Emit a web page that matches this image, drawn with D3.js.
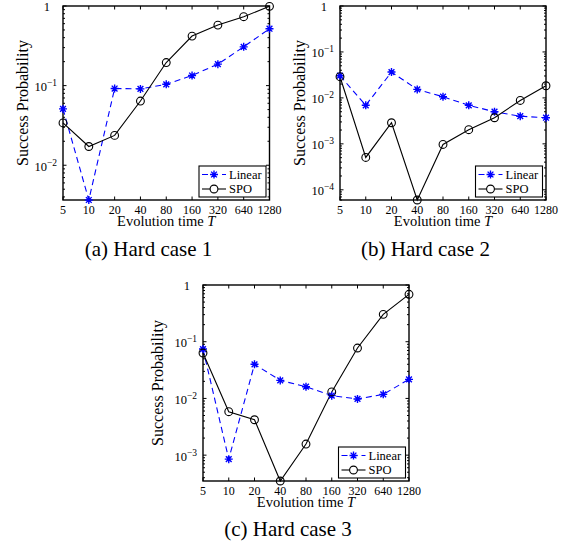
<!DOCTYPE html>
<html><head><meta charset="utf-8">
<script src="https://cdn.jsdelivr.net/npm/d3@7/dist/d3.min.js"></script>
<style>
body{margin:0;background:#fff}
svg{display:block}
</style>
</head><body>
<svg id="chart" width="572" height="544" font-family="'Liberation Serif', 'Times New Roman', Times, 'DejaVu Serif', serif"></svg>
<script>
// ---- data ----
const evolutionTimes = [5, 10, 20, 40, 80, 160, 320, 640, 1280];
const xTickLabels = ["5", "10", "20", "40", "80", "160", "320", "640", "1280"];
const linearCase1 = [0.051, 0.00366, 0.092, 0.091, 0.104, 0.134, 0.186, 0.307, 0.518];
const spoCase1    = [0.034, 0.0172, 0.0237, 0.064, 0.195, 0.419, 0.576, 0.734, 0.99];
const linearCase2 = [0.0304, 0.0069, 0.0365, 0.0153, 0.0106, 0.0069, 0.0050, 0.0040, 0.0037];
const spoCase2    = [0.0289, 0.000506, 0.00288, 0.00006, 0.00097, 0.00203, 0.0037, 0.0088, 0.0184];
const linearCase3 = [0.0743, 0.00085, 0.040, 0.0208, 0.0161, 0.0112, 0.0098, 0.0118, 0.0217];
const spoCase3    = [0.0632, 0.00583, 0.00421, 0.00035, 0.00157, 0.013, 0.0774, 0.304, 0.685];
const seriesNames = ["Linear", "SPO"];
const captions = ["(a) Hard case 1", "(b) Hard case 2", "(c) Hard case 3"];
const yAxisTitle = "Success Probability";
const xAxisTitle = "Evolution time ";
const xAxisTitleVar = "T";

// ---- layout ----
const panels = [
  {left: 63,  right: 269.5, top: 6,   bottom: 200, ylabOff: 35, capX: 148.5, capY: 256, lin: linearCase1, spo: spoCase1, cap: captions[0]},
  {left: 340, right: 546,   top: 6,   bottom: 200, ylabOff: 35, capX: 425.5, capY: 256, lin: linearCase2, spo: spoCase2, cap: captions[1]},
  {left: 203, right: 409,   top: 285, bottom: 481, ylabOff: 40, capX: 288,   capY: 536, lin: linearCase3, spo: spoCase3, cap: captions[2]}
];

const FONT = "'Liberation Serif', 'Times New Roman', Times, 'DejaVu Serif', serif";
const svg = d3.select("#chart");
const BLUE = "#0000ff";
const starPath = (s) => {
  const d = s * 0.72;
  return `M${-s},0L${s},0M0,${-s}L0,${s}M${-d},${-d}L${d},${d}M${-d},${d}L${d},${-d}`;
};
const txt = (sel) => sel.append("text").attr("font-family", FONT).attr("fill", "#000");

panels.forEach(p => {
  const g = svg.append("g");
  const x = d3.scaleLog().base(2).domain([evolutionTimes[0], evolutionTimes[evolutionTimes.length - 1]]).range([p.left, p.right]);
  const yMin = d3.min(p.lin.concat(p.spo));
  const y = d3.scaleLog().domain([yMin, 1]).range([p.bottom, p.top]);

  g.append("rect").attr("x", p.left).attr("y", p.top).attr("width", p.right - p.left).attr("height", p.bottom - p.top)
    .attr("fill", "#fff").attr("stroke", "none");

  // x ticks (inward, bottom & top)
  evolutionTimes.forEach((t, i) => {
    const xx = x(t);
    g.append("line").attr("x1", xx).attr("x2", xx).attr("y1", p.bottom).attr("y2", p.bottom - 3.5).attr("stroke", "#000").attr("stroke-width", 1);
    g.append("line").attr("x1", xx).attr("x2", xx).attr("y1", p.top).attr("y2", p.top + 3.5).attr("stroke", "#000").attr("stroke-width", 1);
    txt(g).attr("x", xx).attr("y", p.bottom + 13.5).attr("text-anchor", "middle")
      .attr("font-size", 12).text(xTickLabels[i]);
  });

  // y ticks (major decades + minor)
  const kMin = Math.ceil(Math.log10(yMin) - 1e-9);
  for (let k = Math.floor(Math.log10(yMin)); k <= 0; k++) {
    for (let m = 1; m <= 9; m++) {
      const v = m * Math.pow(10, k);
      if (v < yMin * 0.999 || v > 1.0001) continue;
      const yy = y(v);
      const len = m === 1 ? 3.5 : 2;
      g.append("line").attr("x1", p.left).attr("x2", p.left + len).attr("y1", yy).attr("y2", yy).attr("stroke", "#000").attr("stroke-width", 1);
      g.append("line").attr("x1", p.right).attr("x2", p.right - len).attr("y1", yy).attr("y2", yy).attr("stroke", "#000").attr("stroke-width", 1);
    }
  }
  for (let k = kMin; k <= 0; k++) {
    const yy = y(Math.pow(10, k));
    if (k === 0) {
      txt(g).attr("x", p.left - 13).attr("y", yy + 4.5).attr("text-anchor", "end").attr("font-size", 12.5).text("1");
    } else {
      txt(g).attr("x", p.left - 16).attr("y", yy + 5.5).attr("text-anchor", "end").attr("font-size", 12.5).text("10");
      txt(g).attr("x", p.left - 16).attr("y", yy + 0.5).attr("text-anchor", "start").attr("font-size", 9.5).text("\u2212" + (-k));
    }
  }

  // box
  g.append("rect").attr("x", p.left).attr("y", p.top).attr("width", p.right - p.left).attr("height", p.bottom - p.top)
    .attr("fill", "none").attr("stroke", "#000").attr("stroke-width", 1.4);

  // axis titles
  const xt = txt(g).attr("x", (p.left + p.right) / 2).attr("y", p.bottom + 25.5).attr("text-anchor", "middle").attr("font-size", 14.5);
  xt.append("tspan").text(xAxisTitle);
  xt.append("tspan").attr("font-style", "italic").text(xAxisTitleVar);
  const cy = (p.top + p.bottom) / 2, cx = p.left - p.ylabOff;
  txt(g).attr("transform", `translate(${cx},${cy}) rotate(-90)`).attr("text-anchor", "middle").attr("font-size", 16).text(yAxisTitle);

  // data
  const line = d3.line().x((d, i) => x(evolutionTimes[i])).y(d => y(d));
  g.append("path").datum(p.lin).attr("d", line).attr("fill", "none").attr("stroke", BLUE).attr("stroke-width", 1.1).attr("stroke-dasharray", "6,4");
  g.append("path").datum(p.spo).attr("d", line).attr("fill", "none").attr("stroke", "#000").attr("stroke-width", 1.1);
  g.selectAll(null).data(p.lin).enter().append("path")
    .attr("transform", (d, i) => `translate(${x(evolutionTimes[i])},${y(d)})`)
    .attr("d", starPath(4)).attr("stroke", BLUE).attr("stroke-width", 1.4).attr("fill", "none");
  g.selectAll(null).data(p.spo).enter().append("circle")
    .attr("cx", (d, i) => x(evolutionTimes[i])).attr("cy", d => y(d)).attr("r", 3.9)
    .attr("fill", "none").attr("stroke", "#000").attr("stroke-width", 1.1);

  // legend
  const lw = 67, lh = 31;
  const lx = p.right - 3.5 - lw, ly = p.bottom - 3 - lh;
  const lg = g.append("g");
  lg.append("rect").attr("x", lx).attr("y", ly).attr("width", lw).attr("height", lh).attr("fill", "#fff").attr("stroke", "#000").attr("stroke-width", 1.1);
  const rows = [ly + 8.5, ly + 23];
  lg.append("line").attr("x1", lx + 3).attr("x2", lx + 27).attr("y1", rows[0]).attr("y2", rows[0])
    .attr("stroke", BLUE).attr("stroke-width", 1.1).attr("stroke-dasharray", "6,4");
  lg.append("path").attr("transform", `translate(${lx + 15},${rows[0]})`).attr("d", starPath(4))
    .attr("stroke", BLUE).attr("stroke-width", 1.4).attr("fill", "none");
  lg.append("line").attr("x1", lx + 3).attr("x2", lx + 27).attr("y1", rows[1]).attr("y2", rows[1]).attr("stroke", "#000").attr("stroke-width", 1.1);
  lg.append("circle").attr("cx", lx + 15).attr("cy", rows[1]).attr("r", 3.9).attr("fill", "#fff").attr("stroke", "#000").attr("stroke-width", 1.1);
  seriesNames.forEach((n, i) => {
    txt(lg).attr("x", lx + 30).attr("y", rows[i] + 4.3).attr("font-size", 12.5).text(n);
  });

  // caption
  txt(svg).attr("x", p.capX).attr("y", p.capY).attr("text-anchor", "middle").attr("font-size", 21).text(p.cap);
});
</script>
</body></html>
